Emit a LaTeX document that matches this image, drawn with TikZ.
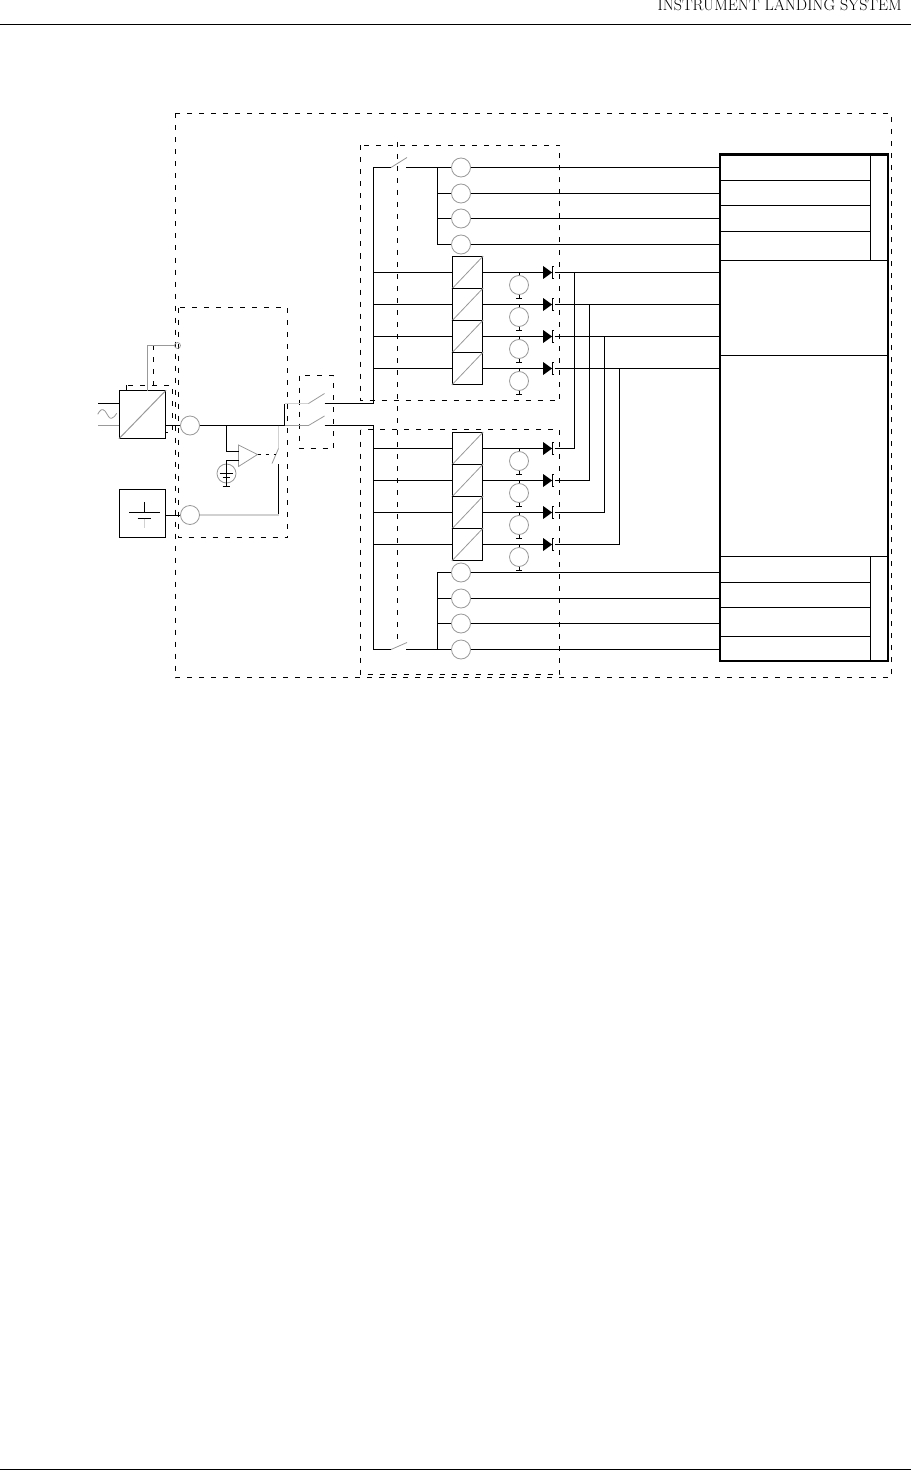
\documentclass[tikz,border=0pt]{standalone}
\usepackage{xcolor}
\usetikzlibrary{calc}
\definecolor{paleline}{gray}{0.82}
\definecolor{midline}{gray}{0.6}
\def\diode{\tikz[x=1pt,y=1pt,baseline=-.5ex]{
	\fill (0,-6.5)--(9,0)--(0,6.5)--cycle;
	\draw[line width=0.8pt] (11,-6)--(9.5,-6)--(9.5,6)--(11,6);}
	}
\tikzset{
	wire/.style={line width=1pt},
	grayline/.style={line width=1pt,color=midline},
	paleband/.style={line width=1.4pt,color=paleline},
	frame/.style={line width=0.9pt,dash pattern=on 5pt off 7pt},
	lamp/.style={circle,draw=midline,line width=0.8pt,minimum size=19pt,inner sep=0pt},
	convbox/.style={rectangle,draw,line width=1pt,minimum width=30.4pt,minimum height=32pt,inner sep=0pt},
	mainsbox/.style={rectangle,draw,fill=white,line width=1pt,minimum width=46pt,minimum height=47.5pt,inner sep=0pt},
}
\begin{document}
\begin{tikzpicture}[x=1pt,y=-1pt]
	\useasboundingbox (0,0) rectangle (911,1471);
	\node[anchor=base east,inner sep=0pt,font=\fontsize{16}{17}\selectfont] (title) at (902,11) {INSTRUMENT LANDING SYSTEM};
	\draw[wire] (0,24.5)--(911,24.5);
	\draw[wire] (0,1469.5)--(911,1469.5);

	\draw[frame] (175,113.5) rectangle (891.5,677.5);
	\draw[frame] (178.5,307.5) rectangle (287.5,537.5);
	\draw[frame] (126,385) rectangle (172.5,432);
	\draw[frame] (299.5,375.5) rectangle (333.5,448.5);
	\draw[frame] (360.5,145.5) rectangle (559.5,400.5);
	\draw[frame] (360.5,429.5) rectangle (559.5,674.5);
	\draw[frame] (397.5,142)--(397.5,644);
	\draw[frame] (153.5,345)--(153.5,385);

	\node[mainsbox] (mains) at (142.5,414.5) {};
	\node[mainsbox] (batt) at (142.5,513.5) {};
	\node[lamp] (mainsout) at (190,425.5) {};
	\node[lamp] (battout) at (190,515) {};
	\node[lamp] (refcell) at (226.5,473.5) {};
	\node[circle,draw=midline,line width=0.7pt,minimum size=6pt,inner sep=0pt] (alarmpt) at (177.5,345.5) {};
	\draw[grayline] (mains.south west)--(mains.north east);
	\draw[wire] (98,403.5)--(mains.west |- 0,403.5);
	\draw[grayline] (98,425.5)--(mains.west |- 0,425.5);
	\draw[grayline,line width=0.8pt] (97.7,414.3) .. controls (100,410) and (102,408) .. (105,411) .. controls (108,415) and (109,419) .. (111.5,418.3) .. controls (114,418) and (115,415.5) .. (116.7,413.3);
	\draw[grayline] (alarmpt.west)--(147.5,345.5)--(147.5,391);
	\draw[wire] (mains.east |- mainsout)--(mainsout.west);
	\draw[wire] (batt.east |- battout)--(battout.west);

	\draw[wire] (129,512)--(160,512);
	\draw[wire] (144.5,502)--(144.5,512);
	\draw[wire] (137.5,518.5)--(151,518.5);
	\draw[paleband] (144.5,518.5)--(144.5,527.5);

	\coordinate (joinrel) at (226.5,425.5);
	\coordinate (joinsw) at (284.5,425.5);
	\coordinate (relaytop) at (278.5,425.5);
	\coordinate (relaypiv) at (278.5,448.5);
	\coordinate (relayend) at (278.5,464);
	\coordinate (battcorner) at (278.5,515);
	\draw[wire] (mainsout.east)--(joinsw);
	\draw[paleband] (relaytop)--(relaypiv);
	\draw[grayline,line width=0.8pt] (relaypiv)--(272,463.5);
	\draw[wire] (relayend)--(battcorner);
	\draw[paleband] (battout.east)--(battcorner);
	\draw[grayline,line width=0.8pt] (238.5,445)--(257.5,454.5)--(238.5,466.5)--cycle;
	\draw[wire,dash pattern=on 3pt off 5pt] (257.5,454.5)--(276,454.5);
	\draw[wire] (joinrel)--(226.5,451.5)--(238.5,451.5);
	\draw[wire] (238.5,460.5)--(226.5,460.5)--(226.5,486);
	\draw[wire] (219.5,473.5)--(233,473.5);
	\draw[wire] (222.5,477.5)--(230,477.5);
	\draw[wire] (222.5,486)--(230,486);

	\coordinate (swupin) at (308.5,403.5);
	\coordinate (swloin) at (308.5,425.5);
	\coordinate (railup) at (373.5,403.5);
	\coordinate (raillo) at (373.5,425.5);
	\draw[wire] (joinsw)--(284.5,403.5);
	\draw[paleband] (284.5,403.5)--(swupin);
	\draw[grayline] (joinsw)--(swloin);
	\draw[grayline,line width=0.8pt] (swupin)--(324.5,393.5);
	\draw[grayline,line width=0.8pt] (swloin)--(324.5,416);
	\draw[wire] (324.5,403.5)--(railup);
	\draw[wire] (324.5,425.5)--(raillo);

	\node[rectangle,draw,line width=2pt,minimum width=167.5pt,minimum height=506.5pt,inner sep=0pt,outer sep=0pt] (panel) at (804,407.75) {};
	\draw[line width=3pt] (panel.north west)--(panel.north east);
	\foreach \y in {180.5,205.5,231.5,582.5,607.5,636.5}
		\draw[wire] (720.5,\y)--(870.5,\y);
	\foreach \y in {260.5,355.5,556.5}
		\draw[wire] (720.5,\y)--(888,\y);
	\draw[wire] (870.5,154.5)--(870.5,260.5);
	\draw[wire] (870.5,556.5)--(870.5,661);

	\coordinate (swatop) at (391,167.5);
	\coordinate (swabot) at (391,649.5);
	\coordinate (tiea) at (437.5,167.5);
	\coordinate (tieb) at (437.5,649.5);
	\foreach \n/\y in {1/167.5,2/193.5,3/218.5,4/244.5}{
		\node[lamp] (lampa\n) at (461,\y) {};
		\draw[wire] (lampa\n.east)--(lampa\n.east -| panel.west);
	}
	\foreach \n/\y in {1/572.5,2/598.5,3/623.5,4/649.5}{
		\node[lamp] (lampb\n) at (461,\y) {};
		\draw[wire] (lampb\n.east)--(lampb\n.east -| panel.west);
	}
	\draw[wire] (railup)--(swatop -| railup)--(swatop);
	\draw[grayline,line width=0.8pt] (swatop)--(407,157.5);
	\draw[wire] (406,167.5)--(lampa1.west);
	\draw[wire] (tiea)--(tiea |- lampa4)--(lampa4.west);
	\draw[wire] (tiea |- lampa2)--(lampa2.west);
	\draw[wire] (tiea |- lampa3)--(lampa3.west);
	\draw[wire] (raillo)--(swabot -| raillo)--(swabot);
	\draw[grayline,line width=0.8pt] (swabot)--(407,642.5);
	\draw[wire] (406,649.5)--(lampb4.west);
	\draw[wire] (tieb)--(tieb |- lampb1)--(lampb1.west);
	\draw[wire] (tieb |- lampb2)--(lampb2.west);
	\draw[wire] (tieb |- lampb3)--(lampb3.west);

	\foreach \n/\y/\x in {1/272.5/574.5,2/304.5/589.5,3/336.5/604.5,4/368.5/619.5}{
		\node[convbox] (conva\n) at (467.5,\y) {};
		\draw[grayline,line width=0.8pt] (conva\n.south west)--(conva\n.north east);
		\node[lamp] (sensea\n) at (519,\y+12.5) {};
		\node[inner sep=0pt,outer sep=0pt] (diodea\n) at (548.8,\y) {\diode};
		\coordinate (inleta\n) at (373.5,\y);
		\coordinate (tap\n) at (\x,\y);
		\draw[wire] (inleta\n)--(conva\n.west);
		\draw[wire] (conva\n.east)--(diodea\n.west);
		\draw[wire] (diodea\n.east)--(diodea\n.east -| panel.west);
		\draw[wire,line width=0.8pt] (sensea\n.north)--(519,\y);
		\draw[wire,line width=0.8pt] (sensea\n.south)--++(0,3)--++(-3,0)--++(6,0);
	}
	\foreach \n/\y/\x in {1/448.5/574.5,2/480.5/589.5,3/512.5/604.5,4/544.5/619.5}{
		\node[convbox] (convb\n) at (467.5,\y) {};
		\draw[grayline,line width=0.8pt] (convb\n.south west)--(convb\n.north east);
		\node[lamp] (senseb\n) at (519,\y+12.5) {};
		\node[inner sep=0pt,outer sep=0pt] (diodeb\n) at (548.8,\y) {\diode};
		\coordinate (inletb\n) at (373.5,\y);
		\draw[wire] (inletb\n)--(convb\n.west);
		\draw[wire] (convb\n.east)--(diodeb\n.west);
		\draw[wire] (diodeb\n.east)--(\x,\y)--(tap\n);
		\draw[wire,line width=0.8pt] (senseb\n.north)--(519,\y);
		\draw[wire,line width=0.8pt] (senseb\n.south)--++(0,3)--++(-3,0)--++(6,0);
	}
\end{tikzpicture}
\end{document}
